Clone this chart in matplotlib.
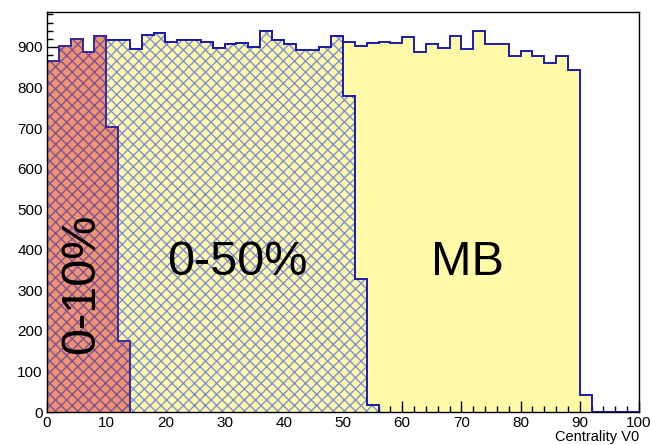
import numpy as np
import matplotlib
matplotlib.use('Agg')
import matplotlib.pyplot as plt
from matplotlib.ticker import MultipleLocator

plt.rcParams['font.family'] = ['Liberation Sans', 'DejaVu Sans']
plt.rcParams['hatch.linewidth'] = 1.0

# bin edges in centrality (width 2)
edges = np.arange(0, 102, 2)

# minimum bias counts, bins 0-100
mb_counts = [866, 903, 920, 888, 928, 918, 918, 895, 929, 934,
             912, 918, 916, 912, 898, 906, 910, 900, 938, 916,
             907, 893, 893, 899, 928, 913, 903, 910, 913, 910,
             924, 887, 906, 898, 926, 895, 938, 906, 906, 877,
             891, 877, 860, 877, 844, 43, 0, 0, 0, 0]

# 0-50% selection, bins 0-56
c050_counts = [866, 903, 920, 888, 928, 918, 918, 895, 929, 934,
               912, 918, 916, 912, 898, 906, 910, 900, 938, 916,
               907, 893, 893, 899, 928, 780, 328, 18]

# 0-10% selection, bins 0-14
c010_counts = [866, 903, 920, 888, 928, 702, 175]

yellow = '#fffaa8'
outline = '#1c1ca8'

fig = plt.figure(figsize=(6.52, 4.45), dpi=100)
ax = fig.add_axes([47 / 652, 33 / 445, 592 / 652, 400 / 445])

# MB
ax.stairs(mb_counts, edges, fill=True, facecolor=yellow, edgecolor='none', zorder=1)
ax.stairs(mb_counts, edges, baseline=0, color=outline, lw=1.4, zorder=2)

# 0-50%
e050 = edges[:len(c050_counts) + 1]
ax.stairs(c050_counts, e050, fill=True, facecolor=yellow, edgecolor='none', zorder=3)
ax.stairs(c050_counts, e050, fill=True, facecolor='none', edgecolor='#8090d8',
          hatch='xxx', lw=0, zorder=4)
ax.stairs(c050_counts, e050, baseline=0, color=outline, lw=1.4, zorder=5)

# 0-10%
e010 = edges[:len(c010_counts) + 1]
ax.stairs(c010_counts, e010, fill=True, facecolor='#ee9470', edgecolor='none', zorder=6)
ax.stairs(c010_counts, e010, fill=True, facecolor='none', edgecolor='#80509a',
          hatch='xxx', lw=0, zorder=7)
ax.stairs(c010_counts, e010, baseline=0, color='#3a2a9a', lw=1.4, zorder=8)

ax.set_xlim(0, 100)
ax.set_ylim(0, 986)

ax.xaxis.set_major_locator(MultipleLocator(10))
ax.xaxis.set_minor_locator(MultipleLocator(2))
ax.yaxis.set_major_locator(MultipleLocator(100))
ax.yaxis.set_minor_locator(MultipleLocator(20))
ax.tick_params(which='both', direction='in', top=False, right=False,
               labelsize=11, colors='black')
ax.tick_params(which='major', length=8, width=1, pad=3)
ax.tick_params(which='minor', length=4.5, width=1)
for sp in ax.spines.values():
    sp.set_linewidth(1.0)
    sp.set_zorder(10)

ax.set_xlabel('Centrality V0', fontsize=10.5, loc='right', labelpad=0)

ax.text(5.9, 317, '0-10%', rotation=90, fontsize=35, ha='center', va='center', zorder=12)
ax.text(32.1, 369, '0-50%', fontsize=35, ha='center', va='center', zorder=12)
ax.text(71.1, 369, 'MB', fontsize=35, ha='center', va='center', zorder=12)

fig.savefig('out.png', dpi=100)
